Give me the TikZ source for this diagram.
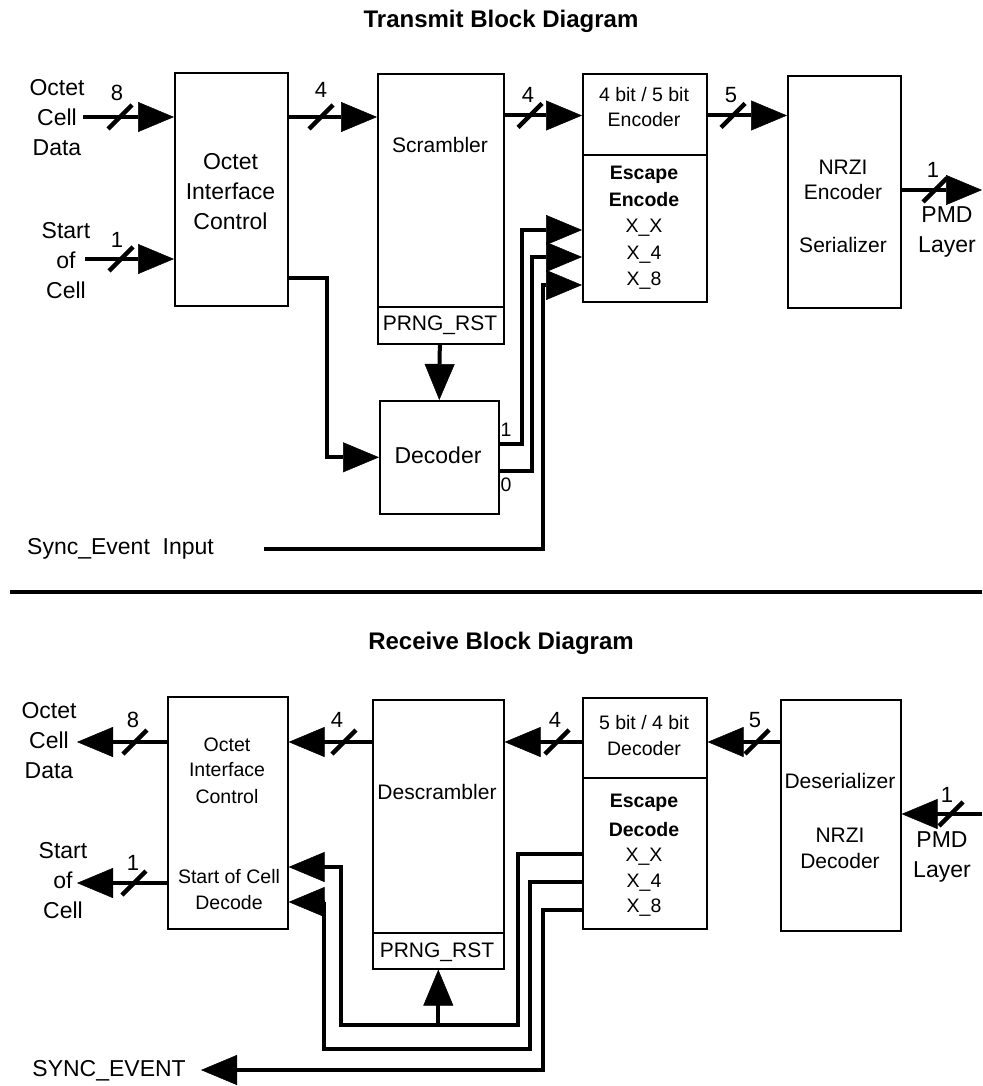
\documentclass[tikz,border=0pt]{standalone}
\usepackage{fontspec}
\setmainfont{Liberation Sans}
\usetikzlibrary{arrows.meta,calc}
\newcommand{\busmark}[2]{\draw[slashln] (#1-12,#2+12) -- (#1+12,#2-12);}
\begin{document}
\begin{tikzpicture}[x=1pt,y=-1pt,
  box/.style={draw,line width=1.6pt,inner sep=0pt,anchor=north west},
  divln/.style={line width=1.6pt},
  sig/.style={line width=4pt},
  arr/.style={-{Triangle[length=36pt,width=30pt,line width=0.5pt]}},
  slashln/.style={line width=4.5pt},
  sepln/.style={line width=4.5pt},
  tL/.style={font=\fontsize{23}{30}\selectfont,align=center,inner sep=0pt},
  tM/.style={font=\fontsize{21}{26}\selectfont,align=center,inner sep=0pt},
  tS/.style={font=\fontsize{19.5}{26}\selectfont,align=center,inner sep=0pt},
  tSb/.style={font=\bfseries\fontsize{19.5}{26}\selectfont,align=center,inner sep=0pt},
  tN/.style={font=\fontsize{22}{26}\selectfont,inner sep=0pt},
  ttl/.style={font=\bfseries\fontsize{24}{28}\selectfont,inner sep=0pt}]
\useasboundingbox (0,0) rectangle (982,1086);

% ---------------- Transmit ----------------
\node[ttl] (ttitle) at (501,21) {Transmit Block Diagram};

\node[box,minimum width=113pt,minimum height=233pt] (toic) at (174,72) {};
\node[box,minimum width=126pt,minimum height=270pt] (scr) at (377,73) {};
\node[box,minimum width=119pt,minimum height=113pt] (tdec) at (379,400) {};
\node[box,minimum width=124pt,minimum height=228pt] (enc) at (582,73) {};
\node[box,minimum width=113pt,minimum height=232pt] (nrzi) at (787,75) {};
\draw[divln] (377,307) -- (503,307);
\draw[divln] (582,155) -- (706,155);

\node[tL] (toictxt) at (230.5,192) {Octet\\Interface\\Control};
\node[tM] (scrtxt) at (440,145) {Scrambler};
\node[tM] (prngt) at (440,325) {PRNG\_RST};
\node[tL] (tdectxt) at (438,455) {Decoder};
\node[tS] (enc1) at (644,95) {4 bit / 5 bit};
\node[tS] (enc2) at (644,120) {Encoder};
\node[tSb] (enc3) at (644,175) {Escape};
\node[tSb] (enc4) at (644,200) {Encode};
\node[tS] (enc5) at (644,228) {X\_X};
\node[tS] (enc6) at (644,255) {X\_4};
\node[tS] (enc7) at (644,281) {X\_8};
\node[tM] (nrz1) at (843,167) {NRZI};
\node[tM] (nrz2) at (843,192) {Encoder};
\node[tM] (nrz3) at (843,245) {Serializer};

\node[tL] (ocdlbl) at (57,118) {Octet\\Cell\\Data};
\node[tL] (soclbl) at (66,261) {Start\\of\\Cell};
\node[tL] (pmdlbl) at (947,232) {PMD\\Layer};
\node[tL,anchor=west] (synclbl) at (27,549) {Sync\_Event\ \ Input};

\coordinate (ocdin) at (83,117);
\coordinate (socin) at (85,259);
\coordinate (ya) at (0,278);
\coordinate (yb) at (0,115.5);
\coordinate (y444) at (0,444);
\coordinate (y471) at (0,471);
\coordinate (yxx) at (0,230);
\coordinate (yx4) at (0,257);
\coordinate (yx8) at (0,285);
\coordinate (pmdout) at (982,190);
\coordinate (syncin) at (264,549);

\draw[sig,arr] (ocdin) -- (ocdin -| toic.west);
\busmark{120}{117}
\node[tN] (n8a) at (117,93) {8};
\draw[sig,arr] (socin) -- (socin -| toic.west);
\busmark{121}{259}
\node[tN] (n1a) at (117,240) {1};
\draw[sig,arr] (toic.east |- ocdin) -- (scr.west |- ocdin);
\busmark{321}{117}
\node[tN] (n4a) at (321,90) {4};
\draw[sig,arr] (toic.east |- ya) -| ($(tdec.west)+(-52,0)$) -- (tdec.west);
\draw[sig,arr] ([xshift=-1pt]scr.south) -- (tdec.north);
\draw[sig,arr] (scr.east |- yb) -- (enc.west |- yb);
\busmark{530}{115.5}
\node[tN] (n4b) at (528,95) {4};
\draw[sig,arr] (enc.east |- yb) -- (nrzi.west |- yb);
\busmark{733}{115.5}
\node[tN] (n5a) at (731,95) {5};
\draw[sig,arr] (nrzi.east |- pmdout) -- (pmdout);
\busmark{935}{190}
\node[tN] (n1b) at (933,170) {1};

\draw[sig,arr] (tdec.east |- y444) -- ++(22,0) |- (enc.west |- yxx);
\draw[sig,arr] (tdec.east |- y471) -- ++(32,0) |- (enc.west |- yx4);
\draw[sig,arr] (syncin) -- ++(279,0) |- (enc.west |- yx8);
\node[tS] (lbl1) at (506,430) {1};
\node[tS] (lbl0) at (506,485) {0};

\draw[sepln] (10,592) -- (982,592);

% ---------------- Receive ----------------
\node[ttl] (rtitle) at (501,643) {Receive Block Diagram};

\node[box,minimum width=120pt,minimum height=232pt] (boic) at (167,696) {};
\node[box,minimum width=131pt,minimum height=269pt] (dscr) at (372,699) {};
\node[box,minimum width=124pt,minimum height=231pt] (bdec) at (582,697) {};
\node[box,minimum width=120pt,minimum height=231pt] (deser) at (780,699) {};
\draw[divln] (372,933) -- (503,933);
\draw[divln] (582,778) -- (706,778);

\node[tS] (bo1) at (227,745) {Octet};
\node[tS] (bo2) at (227,770) {Interface};
\node[tS] (bo3) at (227,797) {Control};
\node[tS] (bo4) at (229,877) {Start of Cell};
\node[tS] (bo5) at (229,903) {Decode};
\node[tM] (dscrtxt) at (437,792) {Descrambler};
\node[tM] (prngb) at (437,952) {PRNG\_RST};
\node[tS] (bd1) at (644,723) {5 bit / 4 bit};
\node[tS] (bd2) at (644,749) {Decoder};
\node[tSb] (bd3) at (644,803) {Escape};
\node[tSb] (bd4) at (644,830) {Decode};
\node[tS] (bd5) at (644,857) {X\_X};
\node[tS] (bd6) at (644,883) {X\_4};
\node[tS] (bd7) at (644,908) {X\_8};
\node[tM] (ds1) at (840,781) {Deserializer};
\node[tM] (ds2) at (840,835) {NRZI};
\node[tM] (ds3) at (840,861) {Decoder};

\node[tL] (bocdlbl) at (49,741) {Octet\\Cell\\Data};
\node[tL] (bsoclbl) at (63,881) {Start\\of\\Cell};
\node[tL] (bpmdlbl) at (942,857) {PMD\\Layer};
\node[tL,anchor=east] (bsynclbl) at (186,1071) {SYNC\_EVENT};

\coordinate (bocd) at (77,742);
\coordinate (bsoc) at (77,883);
\coordinate (pmdin) at (982,814);
\coordinate (yxxb) at (0,854);
\coordinate (yx4b) at (0,882);
\coordinate (yx8b) at (0,910);
\coordinate (ysc1) at (0,867);
\coordinate (ysc2) at (0,902);
\coordinate (b1) at (518,1025);
\coordinate (b2) at (341,1025);
\coordinate (b3) at (530,1049);
\coordinate (b4) at (324,1049);
\coordinate (b5) at (543,1070);
\coordinate (syncout) at (201,1070);

\draw[sig,arr] (boic.west |- bocd) -- (bocd);
\busmark{135}{742}
\node[tN] (n8b) at (133,720) {8};
\draw[sig,arr] (boic.west |- bsoc) -- (bsoc);
\busmark{134}{883}
\node[tN] (n1c) at (133,863) {1};
\draw[sig,arr] (dscr.west |- bocd) -- (boic.east |- bocd);
\busmark{344}{742}
\node[tN] (n4c) at (337,720) {4};
\draw[sig,arr] (bdec.west |- bocd) -- (dscr.east |- bocd);
\busmark{557}{742}
\node[tN] (n4d) at (555,720) {4};
\draw[sig,arr] (deser.west |- bocd) -- (bdec.east |- bocd);
\busmark{757}{742}
\node[tN] (n5b) at (755,720) {5};
\draw[sig,arr] (pmdin) -- (deser.east |- pmdin);
\busmark{951}{814}
\node[tN] (n1d) at (947,795) {1};

\draw[sig,arr] (bdec.west |- yxxb) -| (b1) -- (b2) |- (boic.east |- ysc1);
\draw[sig,arr] (dscr.south |- b1) -- (dscr.south);
\draw[sig,arr] (bdec.west |- yx4b) -| (b3) -- (b4) |- (boic.east |- ysc2);
\draw[sig,arr] (bdec.west |- yx8b) -| (b5) -- (syncout);
\end{tikzpicture}
\end{document}
